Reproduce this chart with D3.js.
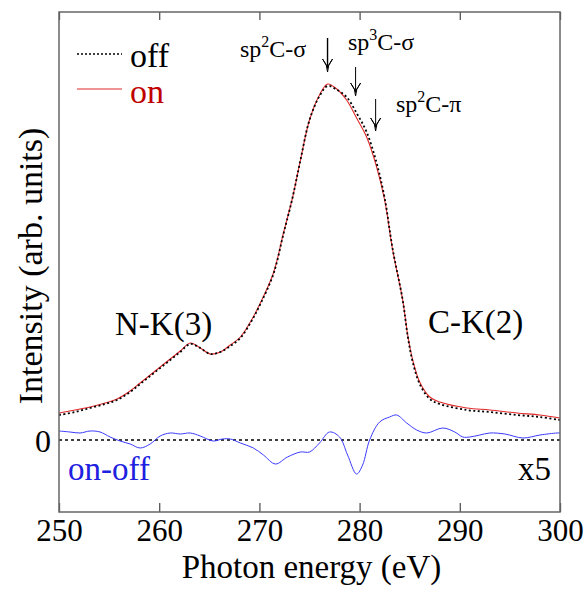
<!DOCTYPE html>
<html>
<head>
<meta charset="utf-8">
<script src="https://cdn.jsdelivr.net/npm/d3@7"></script>
<style>
  #chart text, #chart tspan { font-family: "Liberation Serif", serif !important; }
</style>
</head>
<body style="margin:0; background:#fff">
<svg id="chart" width="586" height="594" font-family="Liberation Serif"></svg>
<script>
// photon energy (eV) and intensities
var energy = [250.0, 251.6, 253.1, 254.6, 255.8, 257.1, 258.1, 259.1, 260.1, 261.1,
              262.1, 263.1, 264.1, 265.1, 266.1, 267.1, 268.1, 269.1, 270.1, 271.4,
              272.4, 273.3, 274.1, 275.0, 276.0, 276.8, 277.6, 278.7, 279.7, 280.7,
              281.7, 282.5, 283.3, 284.3, 284.8, 285.3, 286.0, 287.0, 288.0, 290.7,
              293.0, 295.7, 298.0, 300.0];
var onValues = [0.27, 0.30, 0.33, 0.37, 0.41, 0.49, 0.57, 0.65, 0.73, 0.81,
                0.89, 0.97, 0.92, 0.86, 0.88, 0.95, 1.03, 1.18, 1.37, 1.67,
                2.07, 2.42, 2.80, 3.20, 3.45, 3.56, 3.52, 3.40, 3.22, 3.03,
                2.73, 2.40, 1.90, 1.40, 1.05, 0.80, 0.58, 0.43, 0.38, 0.32,
                0.30, 0.27, 0.25, 0.22];
var offValues = [0.25, 0.28, 0.32, 0.36, 0.40, 0.48, 0.56, 0.64, 0.72, 0.80,
                 0.88, 0.96, 0.92, 0.86, 0.88, 0.94, 1.02, 1.17, 1.36, 1.66,
                 2.06, 2.42, 2.80, 3.20, 3.44, 3.54, 3.51, 3.43, 3.27, 3.08,
                 2.77, 2.42, 1.91, 1.40, 1.04, 0.78, 0.56, 0.41, 0.36, 0.30,
                 0.28, 0.25, 0.23, 0.20];

// on-off difference, already multiplied by 5
var diffEnergy = [250.0, 251.1, 252.1, 253.1, 254.1, 255.1, 256.1, 257.1, 258.1, 259.1,
                  260.1, 261.1, 262.1, 263.1, 264.1, 265.4, 266.3, 267.1, 268.1, 269.4,
                  270.4, 271.6, 272.8, 274.1, 275.0, 276.0, 277.0, 278.0, 278.8, 279.7,
                  280.3, 281.0, 282.0, 283.0, 283.7, 284.7, 285.7, 286.7, 288.3, 289.5,
                  290.3, 291.0, 292.0, 293.0, 294.5, 296.3, 298.0, 299.7, 300.0];
var diffValues = [0.09, 0.08, 0.07, 0.09, 0.08, 0.03, -0.01, -0.04, -0.08, -0.04,
                  0.04, 0.07, 0.06, 0.07, 0.04, -0.01, 0.01, 0.01, -0.03, -0.08,
                  -0.15, -0.24, -0.17, -0.12, -0.12, -0.03, 0.08, 0.03, -0.15, -0.34,
                  -0.25, 0.00, 0.18, 0.23, 0.25, 0.17, 0.10, 0.07, 0.12, 0.08,
                  0.03, 0.03, 0.05, 0.07, 0.06, 0.02, 0.05, 0.07, 0.07];

var xTicks = [250, 260, 270, 280, 290, 300];

var peaks = [
    {e: 276.8, label: "sp", sup: "2", rest: "C-σ", heavy: true},
    {e: 279.6, label: "sp", sup: "3", rest: "C-σ", heavy: false},
    {e: 281.6, label: "sp", sup: "2", rest: "C-π", heavy: false}
];

var FONT = "Liberation Serif";
var margin = {top: 12, right: 26, bottom: 82, left: 59};
var svg = d3.select("#chart");
var width = 586 - margin.left - margin.right;
var height = 594 - margin.top - margin.bottom;

var x = d3.scaleLinear().domain([250, 300]).range([0, width]);
var y = d3.scaleLinear().domain([-0.72, 4.28]).range([height, 0]);

var g = svg.append("g").attr("transform", "translate(" + margin.left + "," + margin.top + ")");

var line = d3.line()
    .x(function(d) { return x(d[0]); })
    .y(function(d) { return y(d[1]); })
    .curve(d3.curveCatmullRom);

// zero line
g.append("line")
    .attr("x1", 0).attr("x2", width)
    .attr("y1", y(0)).attr("y2", y(0))
    .attr("stroke", "#000").attr("stroke-width", 1.6)
    .attr("stroke-dasharray", "3,3");

g.append("path")
    .datum(d3.zip(diffEnergy, diffValues))
    .attr("d", line)
    .attr("fill", "none").attr("stroke", "#3b3bff").attr("stroke-width", 1);

g.append("path")
    .datum(d3.zip(energy, onValues))
    .attr("d", line)
    .attr("fill", "none").attr("stroke", "#e02828").attr("stroke-width", 1.1);

g.append("path")
    .datum(d3.zip(energy, offValues))
    .attr("d", line)
    .attr("fill", "none").attr("stroke", "#000").attr("stroke-width", 1.8)
    .attr("stroke-dasharray", "2,2.5");

// axes: ticks inside, top and bottom
var bottomAxis = g.append("g")
    .attr("transform", "translate(0," + height + ")")
    .call(d3.axisBottom(x).tickValues(xTicks).tickSizeInner(-9).tickSizeOuter(0).tickPadding(7));
var topAxis = g.append("g")
    .call(d3.axisTop(x).tickValues(xTicks).tickSizeInner(-8).tickSizeOuter(0).tickFormat(""));

[bottomAxis, topAxis].forEach(function(a) {
    a.select(".domain").remove();
    a.selectAll(".tick line").attr("stroke", "#555").attr("stroke-width", 1.3);
});
bottomAxis.attr("font-size", 31).attr("font-family", FONT);
bottomAxis.selectAll(".tick text").attr("fill", "#000");

g.append("rect")
    .attr("width", width).attr("height", height)
    .attr("fill", "none").attr("stroke", "#666").attr("stroke-width", 1.5);

g.append("text")
    .attr("x", -8).attr("y", y(0) + 12)
    .attr("text-anchor", "end").attr("font-size", 32)
    .text("0");

// axis titles
svg.append("text")
    .attr("x", margin.left + width / 2 + 2).attr("y", 578)
    .attr("text-anchor", "middle").attr("font-size", 33)
    .text("Photon energy (eV)");

svg.append("text")
    .attr("transform", "translate(42," + (margin.top + height / 2 + 4) + ") rotate(-90)")
    .attr("text-anchor", "middle").attr("font-size", 34)
    .text("Intensity (arb. units)");

// legend
var legend = g.append("g");
legend.append("line")
    .attr("x1", 18).attr("x2", 63).attr("y1", 42).attr("y2", 42)
    .attr("stroke", "#000").attr("stroke-width", 1.6).attr("stroke-dasharray", "2,2");
legend.append("text").attr("x", 71).attr("y", 55).attr("font-size", 34).text("off");
legend.append("line")
    .attr("x1", 18).attr("x2", 63).attr("y1", 77).attr("y2", 77)
    .attr("stroke", "#e02828").attr("stroke-width", 1.1);
legend.append("text").attr("x", 71).attr("y", 91).attr("font-size", 34)
    .attr("fill", "#c00000").text("on");

// region labels
g.append("text").attr("x", 56).attr("y", 323).attr("font-size", 33).text("N-K(3)");
g.append("text").attr("x", 369).attr("y", 321).attr("font-size", 33).text("C-K(2)");
g.append("text").attr("x", 9).attr("y", 468).attr("font-size", 33)
    .attr("fill", "#2020e0").text("on-off");
g.append("text").attr("x", 459).attr("y", 468).attr("font-size", 33).text("x5");

// peak markers
var arrowTops = [26, 55, 87];
var arrowLen = [34, 29, 32];
var labelPos = [[181, 45], [289, 38], [337, 100]];

peaks.forEach(function(p, i) {
    var ax = x(p.e), y0 = arrowTops[i], y1 = y0 + arrowLen[i];
    g.append("line")
        .attr("x1", ax).attr("x2", ax).attr("y1", y0).attr("y2", y1 - 4)
        .attr("stroke", "#000").attr("stroke-width", p.heavy ? 1.4 : 1);
    g.append("path")
        .attr("d", "M" + (ax - 5) + "," + (y1 - 13) + " Q" + ax + "," + (y1 - 7) + " " + ax + "," + y1 +
                   " Q" + ax + "," + (y1 - 7) + " " + (ax + 5) + "," + (y1 - 13) +
                   " L" + ax + "," + (y1 - 5) + " Z")
        .attr("fill", "#000").attr("stroke", "#000").attr("stroke-width", 1);

    var t = g.append("text")
        .attr("x", labelPos[i][0]).attr("y", labelPos[i][1])
        .attr("font-size", 24);
    t.append("tspan").text(p.label);
    t.append("tspan").attr("font-size", 16).attr("dy", -10).text(p.sup);
    t.append("tspan").attr("dy", 10).text(p.rest);
});

// serif on every text, inline and important so nothing else wins
svg.selectAll("text, tspan")
    .attr("font-family", FONT)
    .style("font-family", "'Liberation Serif', serif", "important");
</script>
</body>
</html>
